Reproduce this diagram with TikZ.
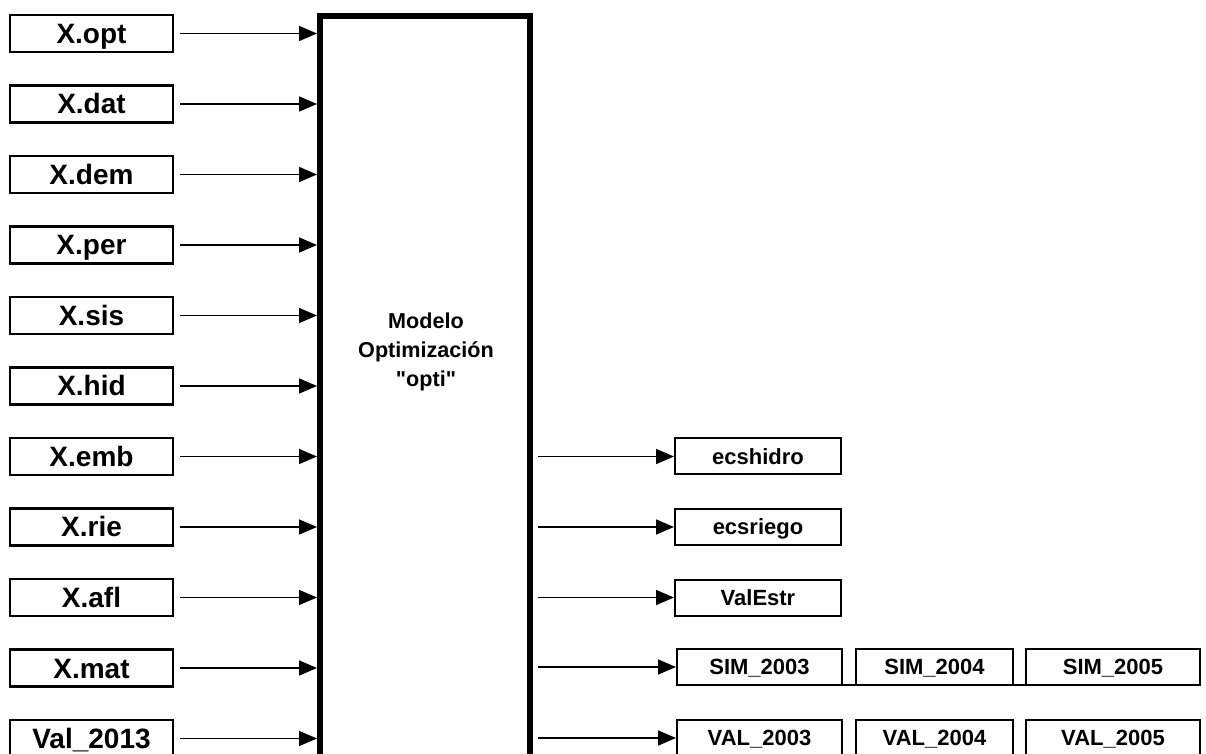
\documentclass[tikz,border=0pt]{standalone}
\usepackage{fontspec}
\setmainfont{Liberation Sans}[Ligatures=TeXOff]
\usetikzlibrary{arrows.meta,calc}
\begin{document}
\begin{tikzpicture}[x=0.5pt,y=-0.5pt,
  inbox/.style={draw, line width=1.1pt, minimum width=81.5pt, minimum height=18.5pt,
    inner sep=0pt, text height=10pt, text depth=0pt,
    font=\bfseries\fontsize{14}{16}\selectfont},
  outbox/.style={draw, line width=1pt, minimum height=18pt, inner sep=0pt,
    text height=7.9pt, text depth=0pt,
    font=\bfseries\fontsize{11}{13}\selectfont},
  modelbox/.style={draw, line width=3pt, minimum width=105pt, minimum height=374pt, inner sep=0pt},
  arr/.style={line width=0.8pt, -{Triangle[length=9pt,width=7.5pt]}},
  link/.style={line width=1pt},
]
\useasboundingbox (0,0) rectangle (1206,754);
\clip (0,0) rectangle (1206,754);

% central optimisation model
\node[modelbox] (model) at (425,390) {};
\node[font=\bfseries\fontsize{10.8}{14.5}\selectfont, align=center] (modeltxt) at (426,352)
  {Modelo\\Optimización\\"opti"};

% input files
\node[inbox] (xopt) at (91.5,33.5)  {X.opt};
\node[inbox] (xdat) at (91.5,104)   {X.dat};
\node[inbox] (xdem) at (91.5,174.5) {X.dem};
\node[inbox] (xper) at (91.5,245)   {X.per};
\node[inbox] (xsis) at (91.5,315.5) {X.sis};
\node[inbox] (xhid) at (91.5,386)   {X.hid};
\node[inbox] (xemb) at (91.5,456.5) {X.emb};
\node[inbox] (xrie) at (91.5,527)   {X.rie};
\node[inbox] (xafl) at (91.5,597.5) {X.afl};
\node[inbox] (xmat) at (91.5,668)   {X.mat};
\node[inbox] (val13) at (91.5,738.5) {Val\_2013};

\foreach \n in {xopt,xdat,xdem,xper,xsis,xhid,xemb,xrie,xafl,xmat,val13}
  \draw[arr] ([xshift=3pt]\n.east) -- (\n.east -| model.west);

% output files
\node[outbox, minimum width=83pt] (ecsh) at (758,456.5) {ecshidro};
\node[outbox, minimum width=83pt] (ecsr) at (758,527)   {ecsriego};
\node[outbox, minimum width=83pt] (vest) at (758,597.5) {ValEstr};

\node[outbox, minimum width=82.5pt] (sim3) at (759.5,667) {SIM\_2003};
\node[outbox, minimum width=78.5pt] (sim4) at (934.5,667) {SIM\_2004};
\node[outbox, minimum width=87pt]   (sim5) at (1113,667)  {SIM\_2005};

\node[outbox, minimum width=82.5pt] (val3) at (759.5,738) {VAL\_2003};
\node[outbox, minimum width=78.5pt] (val4) at (934.5,738) {VAL\_2004};
\node[outbox, minimum width=87pt]   (val5) at (1113,738)  {VAL\_2005};

\foreach \n in {ecsh,ecsr,vest,sim3,val3}
  \draw[arr] ($(model.east |- \n.west)+(2.5pt,0)$) -- (\n.west);

% joined bottom edges of the SIM row
\draw[link] ([yshift=0.5pt]sim3.south east) -- ([yshift=0.5pt]sim4.south west);
\draw[link] ([yshift=0.5pt]sim4.south east) -- ([yshift=0.5pt]sim5.south west);
\end{tikzpicture}
\end{document}
